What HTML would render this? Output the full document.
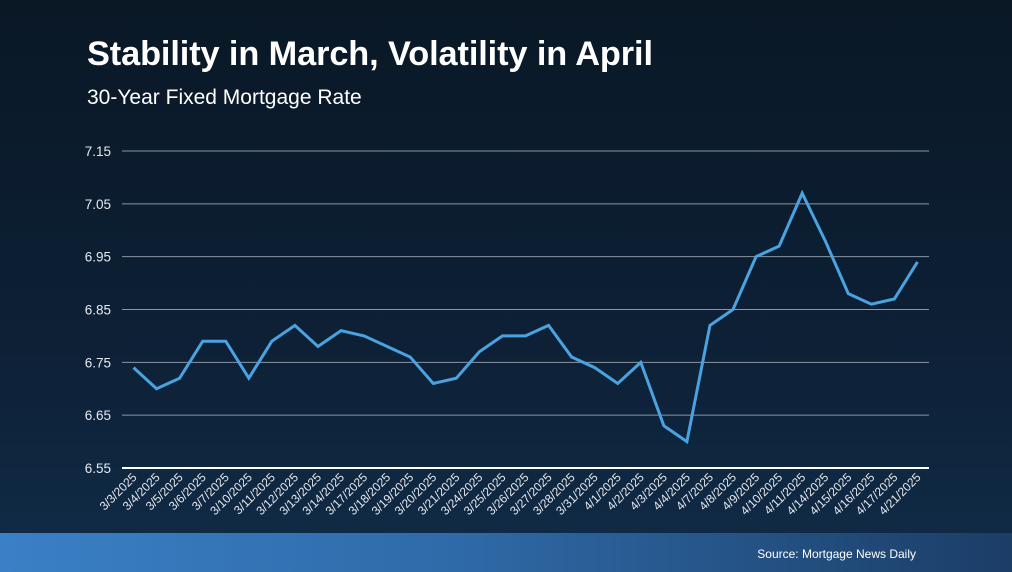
<!DOCTYPE html>
<html><head><meta charset="utf-8"><style>
html,body{margin:0;padding:0}
body{width:1012px;height:572px;overflow:hidden;position:relative;font-family:"Liberation Sans",sans-serif;background:linear-gradient(180deg,#0a1826 0%,#0d2036 60%,#102a45 93%)}
#title{position:absolute;left:87px;top:35px;color:#fff;font-size:34.3px;font-weight:bold;margin:0;letter-spacing:-0.1px}
#subtitle{position:absolute;left:87px;top:86px;color:#fff;font-size:21px}
#footer{position:absolute;left:0;top:533px;width:1012px;height:39px;background:linear-gradient(90deg,#3a80c6 0%,#2f6aa8 45%,#1b3d66 100%)}
#source{position:absolute;right:96px;top:14px;color:#fff;font-size:12px}
svg{position:absolute;left:0;top:0}
</style></head><body>
<h1 id="title">Stability in March, Volatility in April</h1>
<div id="subtitle">30-Year Fixed Mortgage Rate</div>
<svg id="chart" width="1012" height="533"></svg>
<div id="footer"><span id="source">Source: Mortgage News Daily</span></div>
<script>
const categories=["3/3/2025","3/4/2025","3/5/2025","3/6/2025","3/7/2025","3/10/2025","3/11/2025","3/12/2025","3/13/2025","3/14/2025","3/17/2025","3/18/2025","3/19/2025","3/20/2025","3/21/2025","3/24/2025","3/25/2025","3/26/2025","3/27/2025","3/28/2025","3/31/2025","4/1/2025","4/2/2025","4/3/2025","4/4/2025","4/7/2025","4/8/2025","4/9/2025","4/10/2025","4/11/2025","4/14/2025","4/15/2025","4/16/2025","4/17/2025","4/21/2025"];
const rates=[6.74,6.70,6.72,6.79,6.79,6.72,6.79,6.82,6.78,6.81,6.80,6.78,6.76,6.71,6.72,6.77,6.80,6.80,6.82,6.76,6.74,6.71,6.75,6.63,6.60,6.82,6.85,6.95,6.97,7.07,6.98,6.88,6.86,6.87,6.94];
const yTicks=[6.55,6.65,6.75,6.85,6.95,7.05,7.15];
const NS="http://www.w3.org/2000/svg";
const svg=document.getElementById('chart');
const L=122,R=929,yMin=6.55,yMax=7.15,B=468,T=151;
const band=(R-L)/categories.length;
function x(i){return L+band*(i+0.5);}
function y(v){return B-(v-yMin)/(yMax-yMin)*(B-T);}
function mk(t,a){const e=document.createElementNS(NS,t);for(const k in a)e.setAttribute(k,a[k]);svg.appendChild(e);return e;}
yTicks.forEach((v,i)=>{
  const g=mk('line',{x1:L,x2:R,y1:y(v),y2:y(v),stroke:i===0?'#ffffff':'#8a96a3','stroke-width':i===0?2:1});
  
  
  const t=mk('text',{x:111,y:y(v)+5,fill:'#e6e9ee','font-size':13.5,'text-anchor':'end','font-family':'Liberation Sans, sans-serif'});
  t.textContent=v.toFixed(2);
  
  
});
categories.forEach((c,i)=>{
  const t=mk('text',{x:x(i)+4,y:478,fill:'#e6e9ee','font-size':12,'text-anchor':'end','font-family':'Liberation Sans, sans-serif',transform:`rotate(-45 ${x(i)+4} 478)`});
  t.textContent=c;
  
  
});
const p=mk('polyline',{points:rates.map((v,i)=>x(i)+','+y(v)).join(' '),fill:'none',stroke:'#4aa3e0','stroke-width':3,'stroke-linejoin':'miter'});


</script>
</body></html>
